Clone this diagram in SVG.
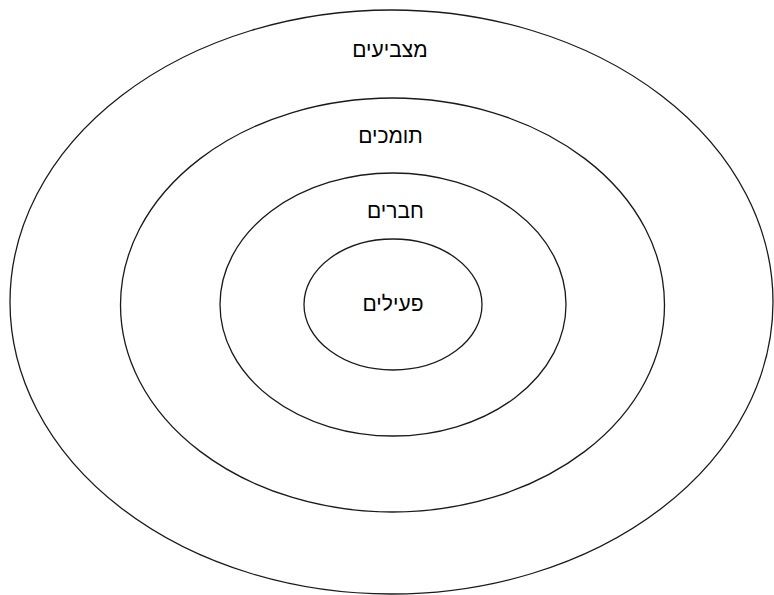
<svg xmlns="http://www.w3.org/2000/svg" width="774" height="595" viewBox="0 0 774 595">
<style>
.ring{fill:none;stroke:#1a1a1a;stroke-width:1.3}
.lbl{font-family:"Liberation Sans","DejaVu Sans",sans-serif;font-size:21px;fill:#000;text-anchor:middle}
</style>
<rect width="774" height="595" fill="#fff"/>
<g id="outer"><ellipse class="ring" cx="391.5" cy="302" rx="381.5" ry="292"/><text class="lbl" x="390" y="57">מצביעים</text></g>
<g id="supporters"><ellipse class="ring" cx="392.5" cy="305" rx="272" ry="207"/><text class="lbl" x="390.5" y="143">תומכים</text></g>
<g id="members"><ellipse class="ring" cx="393" cy="304.5" rx="173" ry="131.5"/><text class="lbl" x="395.5" y="218">חברים</text></g>
<g id="active"><ellipse class="ring" cx="393" cy="304.5" rx="89" ry="65.5"/><text class="lbl" x="393" y="311">פעילים</text></g>
<g id="connectors"></g>
</svg>
